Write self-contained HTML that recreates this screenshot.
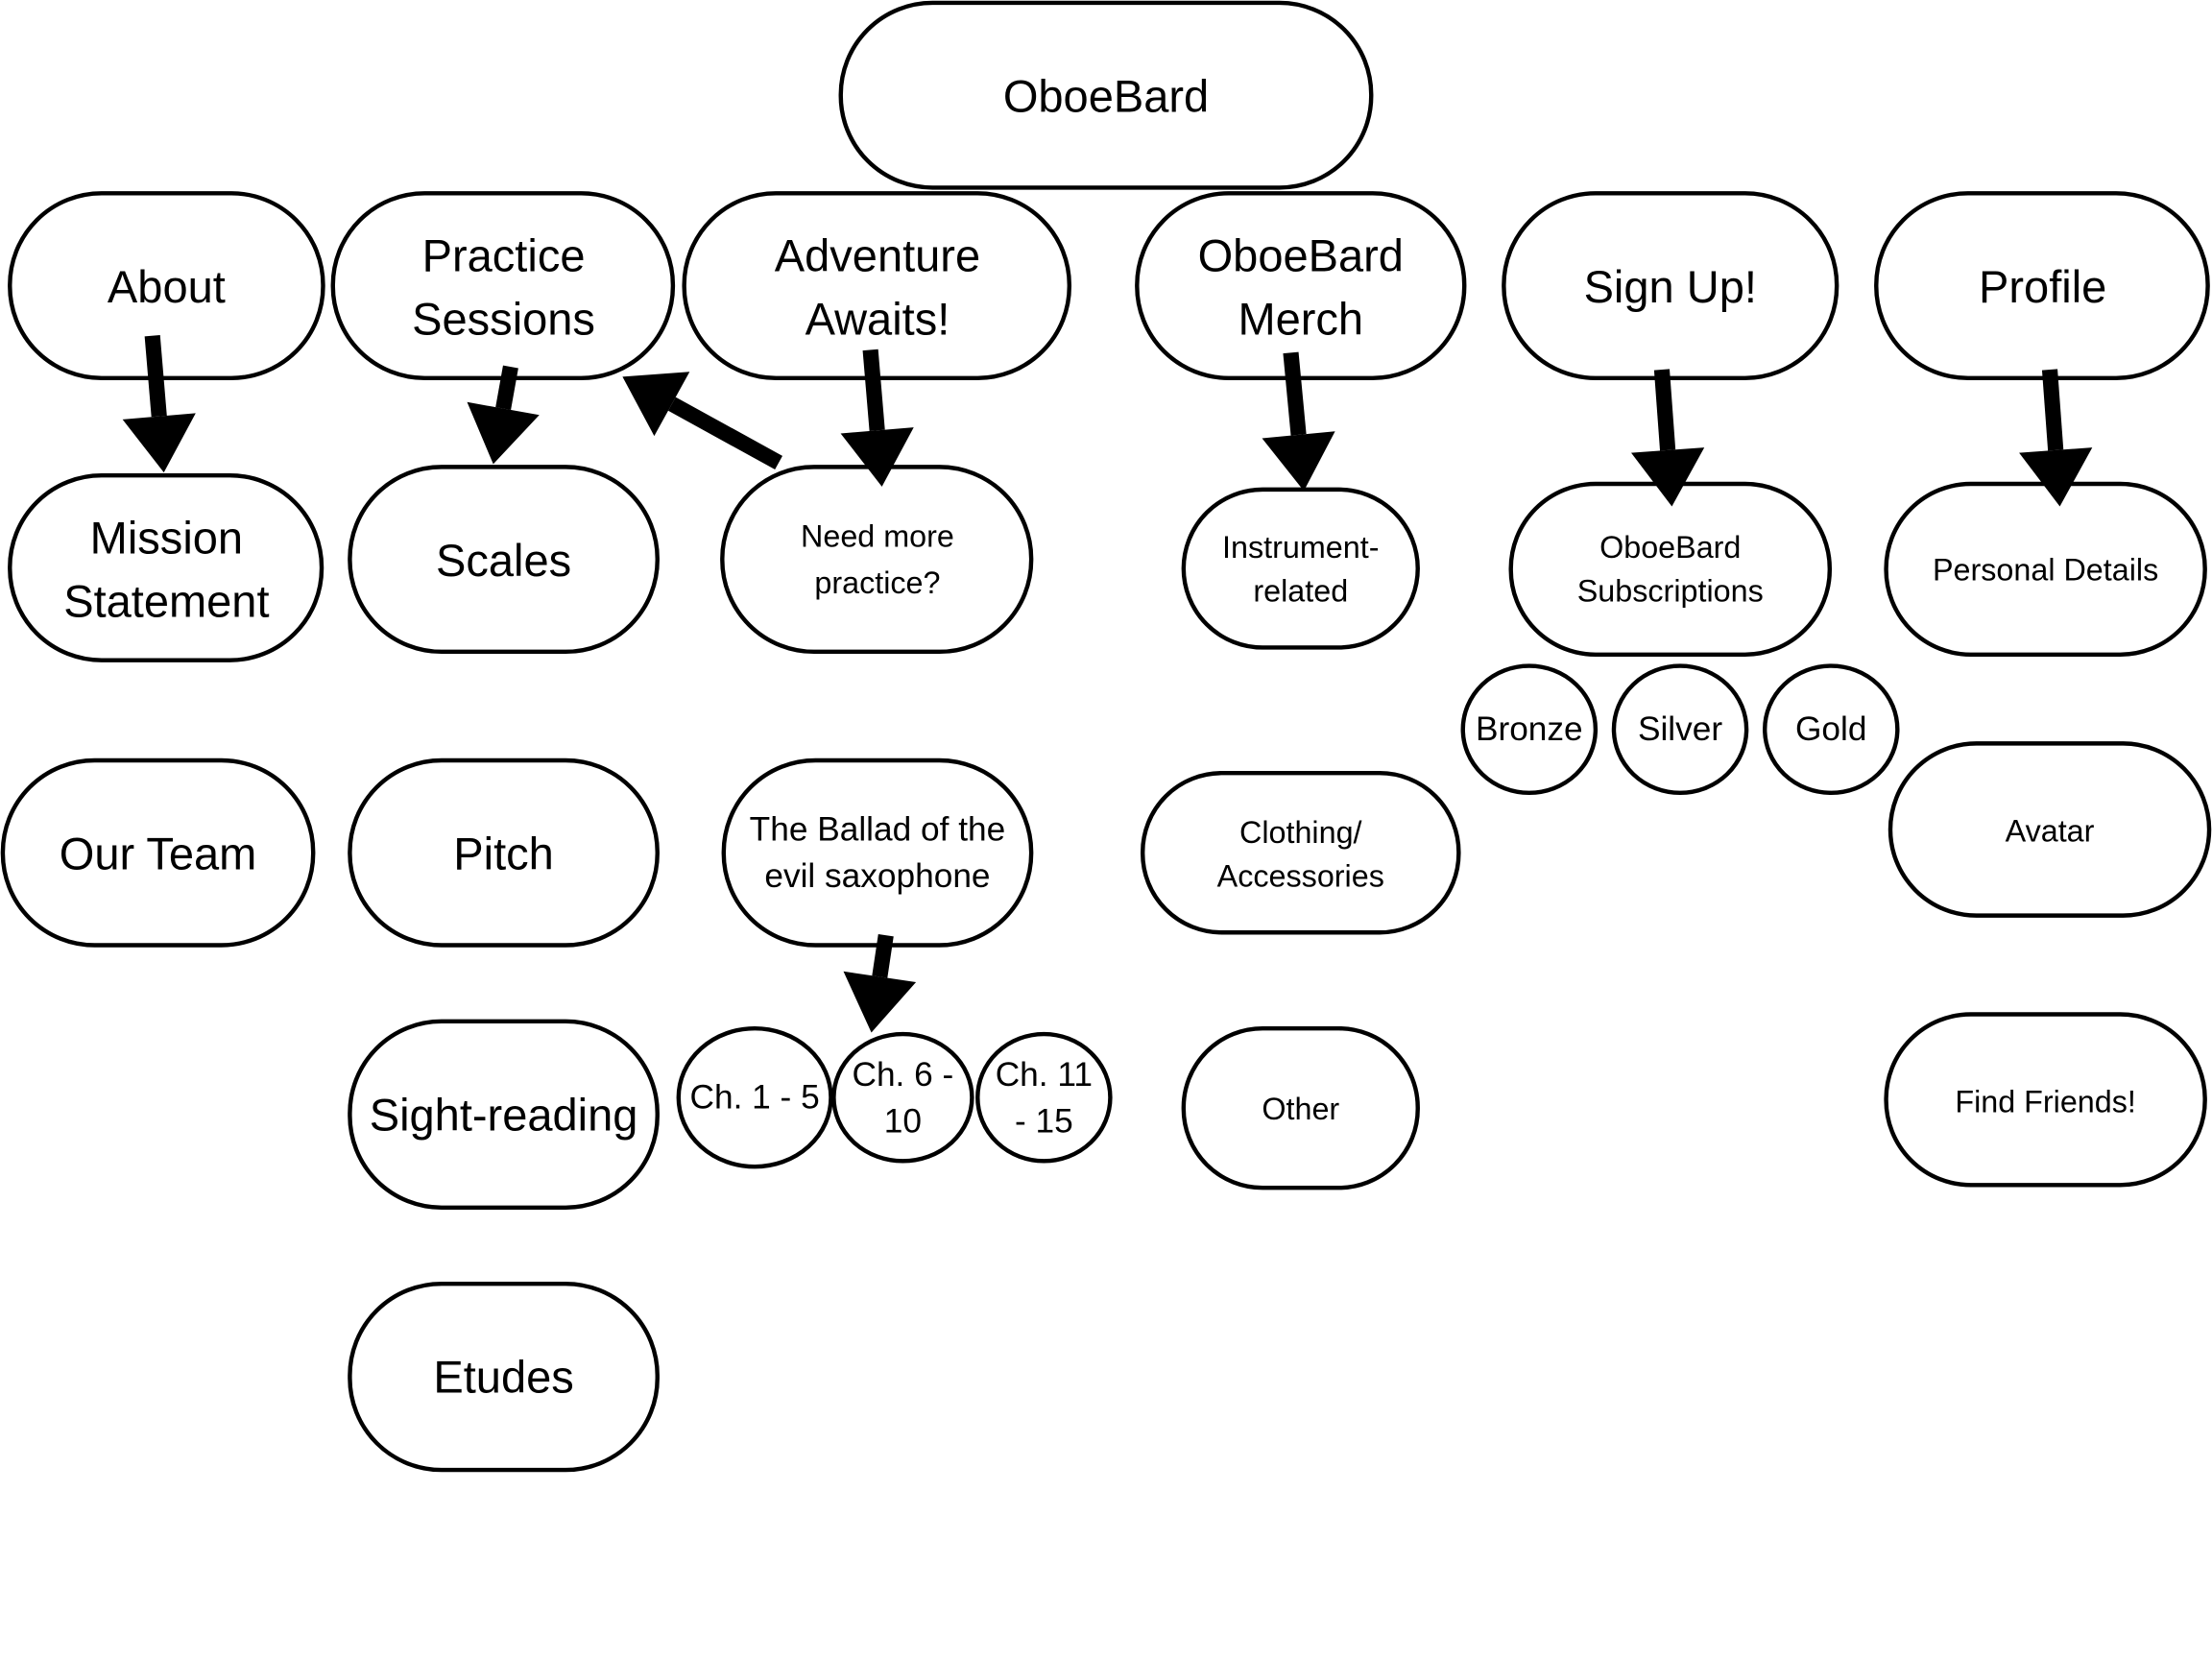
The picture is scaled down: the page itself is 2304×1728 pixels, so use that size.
<!DOCTYPE html>
<html><head><meta charset="utf-8"><style>
html,body{margin:0;padding:0;background:#fff;}
svg{display:block}
text{font-family:"Liberation Sans","DejaVu Sans",sans-serif;fill:#000;text-anchor:middle;dominant-baseline:central}
</style></head><body>
<svg width="2304" height="1728" viewBox="0 0 1568 1176" preserveAspectRatio="none" xmlns="http://www.w3.org/2000/svg">
<defs>
<marker id="ah" markerUnits="userSpaceOnUse" markerWidth="40" markerHeight="52" refX="0" refY="26" orient="auto" overflow="visible">
<polygon points="0,0 40,26 0,52" fill="#000"/>
</marker>
</defs>
<g fill="#fff" stroke="#000" stroke-width="3">
<rect x="596" y="2" width="376" height="131" rx="65"/>
<rect x="7" y="137" width="222" height="131" rx="65"/>
<rect x="236" y="137" width="241" height="131" rx="65"/>
<rect x="485" y="137" width="273" height="131" rx="65"/>
<rect x="806" y="137" width="232" height="131" rx="65"/>
<rect x="1066" y="137" width="236" height="131" rx="65"/>
<rect x="1330" y="137" width="235" height="131" rx="65"/>
<rect x="7" y="337" width="221" height="131" rx="65"/>
<rect x="248" y="331" width="218" height="131" rx="65"/>
<rect x="512" y="331" width="219" height="131" rx="65"/>
<rect x="839" y="347" width="166" height="112" rx="56"/>
<rect x="1071" y="343" width="226" height="121" rx="60"/>
<rect x="1337" y="343" width="226" height="121" rx="60"/>
<ellipse cx="1084" cy="517" rx="47" ry="45"/>
<ellipse cx="1191" cy="517" rx="47" ry="45"/>
<ellipse cx="1298" cy="517" rx="47" ry="45"/>
<rect x="2" y="539" width="220" height="131" rx="65"/>
<rect x="248" y="539" width="218" height="131" rx="65"/>
<rect x="513" y="539" width="218" height="131" rx="65"/>
<rect x="810" y="548" width="224" height="113" rx="56"/>
<rect x="1340" y="527" width="226" height="122" rx="61"/>
<rect x="248" y="724" width="218" height="132" rx="65"/>
<ellipse cx="535" cy="778" rx="54" ry="49"/>
<ellipse cx="640" cy="778" rx="49" ry="45"/>
<ellipse cx="740" cy="778" rx="47" ry="45"/>
<rect x="839" y="729" width="166" height="113" rx="56"/>
<rect x="1337" y="719" width="226" height="121" rx="60"/>
<rect x="248" y="910" width="218" height="132" rx="65"/>
</g>
<g stroke="#000" stroke-width="11" marker-end="url(#ah)">
<line x1="108" y1="238" x2="112.8" y2="295.1"/>
<line x1="362" y1="260" x2="356.7" y2="289.6"/>
<line x1="617" y1="248" x2="621.8" y2="305.1"/>
<line x1="552" y1="328" x2="476.3" y2="286.3"/>
<line x1="915" y1="250" x2="920.5" y2="308.2"/>
<line x1="1178" y1="262" x2="1182.2" y2="319.1"/>
<line x1="1453" y1="262" x2="1457.2" y2="319.1"/>
<line x1="628" y1="663" x2="623.6" y2="692.4"/>
</g>
<g font-size="32">
<text x="784" y="68">OboeBard</text>
<text x="118" y="203">About</text>
<text x="357" y="181">Practice</text><text x="357" y="226">Sessions</text>
<text x="622" y="181">Adventure</text><text x="622" y="226">Awaits!</text>
<text x="922" y="181">OboeBard</text><text x="922" y="226">Merch</text>
<text x="1184" y="203">Sign Up!</text>
<text x="1448" y="203">Profile</text>
<text x="118" y="381">Mission</text><text x="118" y="426">Statement</text>
<text x="357" y="397">Scales</text>
<text x="112" y="605">Our Team</text>
<text x="357" y="605">Pitch</text>
<text x="357" y="790">Sight-reading</text>
<text x="357" y="976">Etudes</text>
</g>
<g font-size="22">
<text x="622" y="380">Need more</text><text x="622" y="413">practice?</text>
<text x="922" y="388">Instrument-</text><text x="922" y="419">related</text>
<text x="1184" y="388">OboeBard</text><text x="1184" y="419">Subscriptions</text>
<text x="1450" y="404">Personal Details</text>
<text x="1084" y="517" font-size="24">Bronze</text>
<text x="1191" y="517" font-size="24">Silver</text>
<text x="1298" y="517" font-size="24">Gold</text>
<text x="622" y="588" font-size="24">The Ballad of the</text><text x="622" y="621" font-size="24">evil saxophone</text>
<text x="922" y="590">Clothing/</text><text x="922" y="621">Accessories</text>
<text x="1453" y="589">Avatar</text>
<text x="535" y="778" font-size="24">Ch. 1 - 5</text>
<text x="640" y="762" font-size="24">Ch. 6 -</text><text x="640" y="795" font-size="24">10</text>
<text x="740" y="762" font-size="24">Ch. 11</text><text x="740" y="795" font-size="24">- 15</text>
<text x="922" y="786">Other</text>
<text x="1450" y="781">Find Friends!</text>
</g>
</svg>
</body></html>
